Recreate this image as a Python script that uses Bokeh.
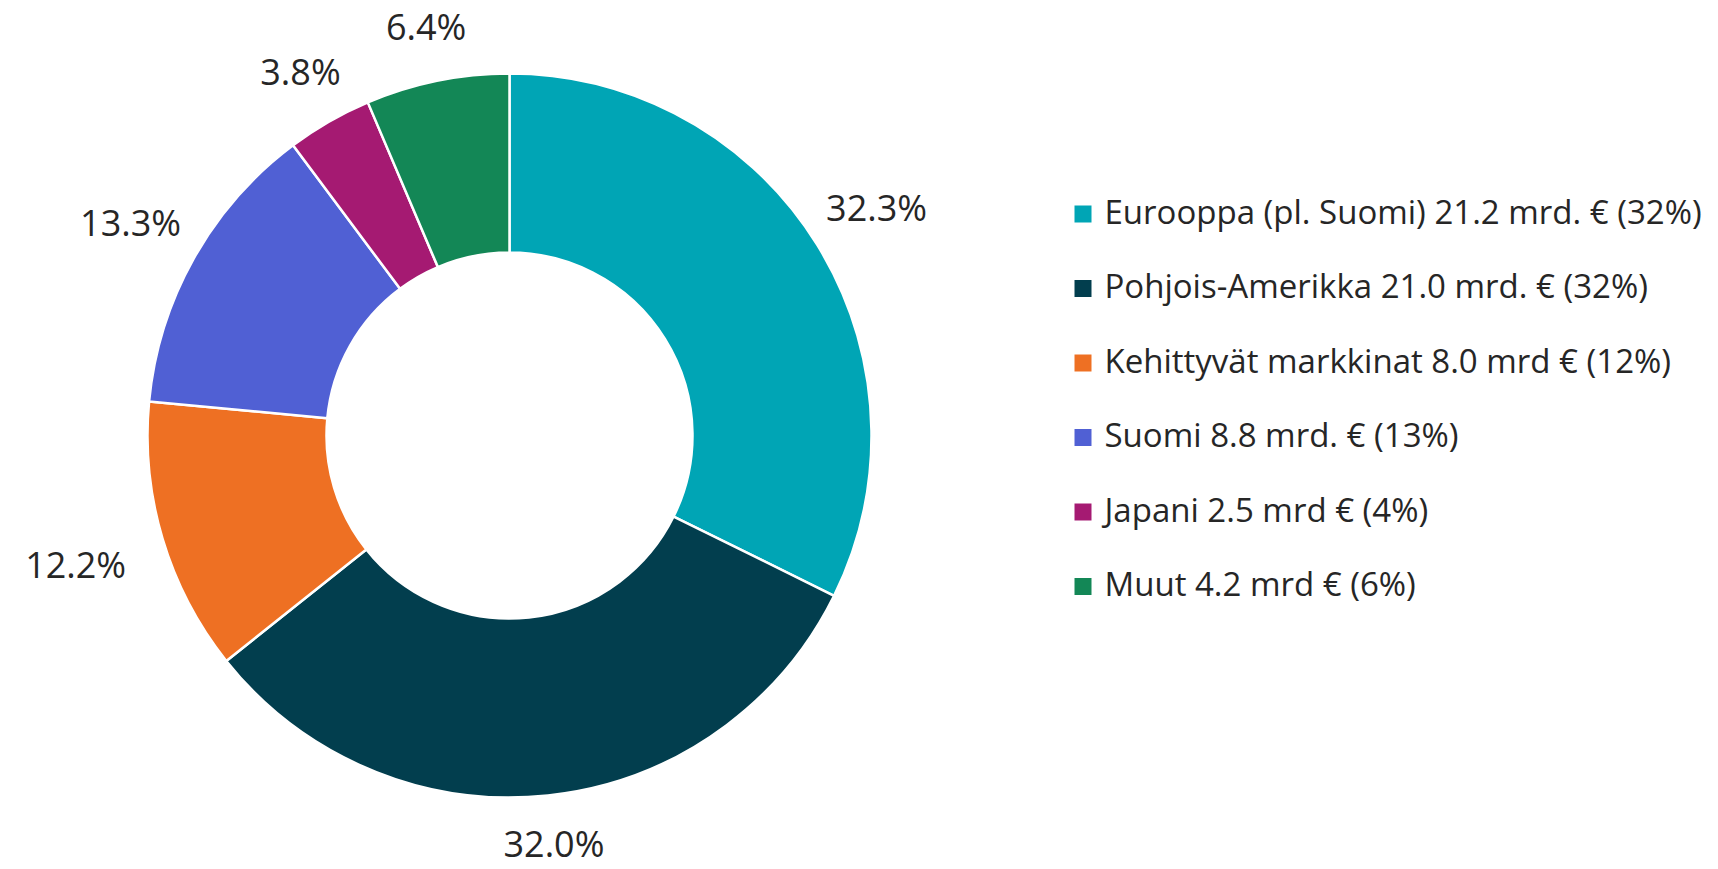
import math
from bokeh.plotting import figure
from bokeh.models import Range1d, ColumnDataSource
from bokeh.core.properties import value
from bokeh.embed import file_html
from bokeh.resources import INLINE

# ---- data ----
categories = ["Eurooppa (pl. Suomi)", "Pohjois-Amerikka", "Kehittyvät markkinat",
              "Suomi", "Japani", "Muut"]
shares = [32.3, 32.0, 12.2, 13.3, 3.8, 6.4]
legend_labels = [
    "Eurooppa (pl. Suomi) 21.2 mrd. € (32%)",
    "Pohjois-Amerikka 21.0 mrd. € (32%)",
    "Kehittyvät markkinat 8.0 mrd € (12%)",
    "Suomi 8.8 mrd. € (13%)",
    "Japani 2.5 mrd € (4%)",
    "Muut 4.2 mrd € (6%)",
]
colors = ["#00A5B5", "#023E4E", "#EE7023", "#5060D4", "#A51A72", "#138756"]

# ---- layout (pixel-like data units, y measured upward) ----
W, H = 1718, 869
cx, cy = 509, H - 435
R_out, R_in = 362, 183
FONT = "Open Sans"
LABEL_PX = 36
LEGEND_PX = 33

p = figure(width=W, height=H, x_range=Range1d(0, W), y_range=Range1d(0, H),
           output_backend="svg", toolbar_location=None, min_border=0)
p.axis.visible = False
p.grid.visible = False
p.outline_line_color = None
p.background_fill_color = "white"
p.border_fill_color = "white"

total = sum(shares)
starts, ends, mids = [], [], []
c = 0.0
for s in shares:
    c0, c1 = c / total, (c + s) / total
    starts.append(math.pi / 2 - 2 * math.pi * c1)
    ends.append(math.pi / 2 - 2 * math.pi * c0)
    mids.append(2 * math.pi * (c0 + c1) / 2)  # clockwise from top
    c += s

src = ColumnDataSource(dict(start=starts, end=ends, color=colors))
p.annular_wedge(x=cx, y=cy, inner_radius=R_in, outer_radius=R_out,
                start_angle="start", end_angle="end", direction="anticlock",
                fill_color="color", line_color="white", line_width=2.5, source=src)

# ---- data labels ----
lx, ly, lt = [], [], []
gap = 38
half_h = 17
edge_pad = 26  # keep label boxes inside the canvas
for s, th in zip(shares, mids):
    txt = f"{s:.1f}%"
    ndig = len(txt) - 2
    w = LABEL_PX * (0.572 * ndig + 0.266 + 0.821)
    dx, dy = math.sin(th), math.cos(th)
    ext = min((w / 2) / max(abs(dx), 1e-6), half_h / max(abs(dy), 1e-6))
    r = R_out + gap + ext
    x = cx + r * dx
    y = cy + r * dy
    y = min(max(y, edge_pad), H - edge_pad)
    lx.append(x)
    ly.append(y)
    lt.append(txt)
p.text(x=lx, y=ly, text=lt, text_align="center", text_baseline="middle",
       text_font=value(FONT), text_font_size=f"{LABEL_PX}px", text_color="#262626")

# ---- legend ----
leg_x_sq = 1082.5
leg_x_txt = 1104
leg_y0 = 213.5
leg_step = 74.5
sq_y = [H - (leg_y0 + i * leg_step) for i in range(len(legend_labels))]
p.rect(x=[leg_x_sq] * len(legend_labels), y=sq_y, width=17, height=17,
       fill_color=colors, line_color=None)
p.text(x=[leg_x_txt] * len(legend_labels), y=[v + 3 for v in sq_y], text=legend_labels,
       text_align="left", text_baseline="middle",
       text_font=value(FONT), text_font_size=f"{LEGEND_PX}px", text_color="#262626")

open("out.html", "w").write(file_html(p, INLINE))
